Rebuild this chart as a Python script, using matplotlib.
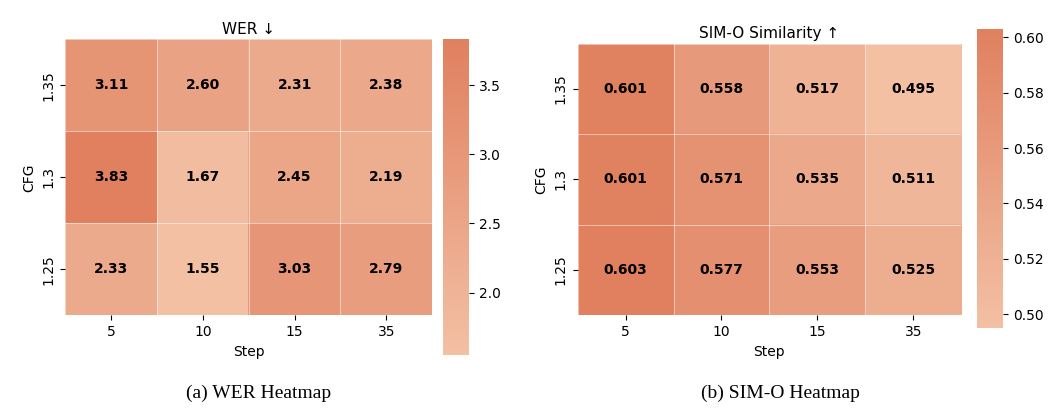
import numpy as np
import matplotlib
matplotlib.use("Agg")
import matplotlib.pyplot as plt
from matplotlib.colors import LinearSegmentedColormap

steps = ["5", "10", "15", "35"]
cfgs = ["1.35", "1.3", "1.25"]
wer = np.array([[3.11, 2.60, 2.31, 2.38],
                [3.83, 1.67, 2.45, 2.19],
                [2.33, 1.55, 3.03, 2.79]])
sim = np.array([[0.601, 0.558, 0.517, 0.495],
                [0.601, 0.571, 0.535, 0.511],
                [0.603, 0.577, 0.553, 0.525]])

cmap = LinearSegmentedColormap.from_list("salmon", ["#f3c0a4", "#e0805f"])

fig = plt.figure(figsize=(10.54, 4.15), dpi=100)


def draw(rect, crect, data, fmt, title, ticks, caption, cx):
    ax = fig.add_axes(rect)
    im = ax.imshow(data, cmap=cmap, aspect="auto",
                   vmin=data.min(), vmax=data.max())
    for i in range(data.shape[0]):
        for j in range(data.shape[1]):
            ax.text(j, i, fmt.format(data[i, j]), ha="center", va="center",
                    fontsize=10, fontweight="bold", color="black")
    ax.set_xticks(np.arange(-0.5, 4, 1), minor=True)
    ax.set_yticks(np.arange(-0.5, 3, 1), minor=True)
    ax.grid(which="minor", color="white", linewidth=0.6, alpha=0.6)
    ax.tick_params(which="minor", length=0)
    ax.set_xticks(range(4))
    ax.set_xticklabels(steps)
    ax.set_yticks(range(3))
    ax.set_yticklabels(cfgs, rotation=90, va="center")
    for s in ax.spines.values():
        s.set_visible(False)
    ax.set_xlabel("Step")
    ax.set_ylabel("CFG")
    ax.set_title(title, fontsize=11, pad=4)
    cax = fig.add_axes(crect)
    cb = fig.colorbar(im, cax=cax, ticks=ticks)
    cb.outline.set_visible(False)
    cb.ax.tick_params(labelsize=10)
    fig.text(cx, 0.04, caption, ha="center", fontsize=14,
             family="Liberation Serif")


draw([0.062, 0.24, 0.348, 0.665], [0.42, 0.145, 0.025, 0.76], wer, "{:.2f}",
     "WER ↓", [2.0, 2.5, 3.0, 3.5], "(a) WER Heatmap", 0.245)
draw([0.548, 0.24, 0.364, 0.655], [0.927, 0.21, 0.025, 0.72], sim, "{:.3f}",
     "SIM-O Similarity ↑", [0.50, 0.52, 0.54, 0.56, 0.58, 0.60],
     "(b) SIM-O Heatmap", 0.74)

fig.savefig("out.png", dpi=100)
